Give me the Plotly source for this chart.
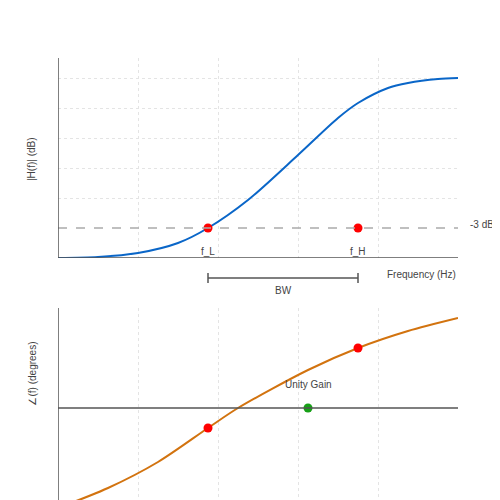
import plotly.graph_objects as go

mag_x = [0, 40, 80, 120, 150, 190, 240, 280, 300, 330, 350, 380, 400]
mag_y = [0, 1, 5, 15, 30, 58, 103, 140, 155, 170, 175, 179, 180]
ph_x = [0, 50, 100, 150, 180, 250, 300, 350, 400]
ph_y = [0, 20, 46, 80, 100, 138, 160, 177, 190]
cut_x = [150, 300]
cut_mag = [30, 30]
ph_pts_x = [150, 300]
ph_pts_y = [80, 160]
ug_x = [250]
ug_y = [100]

fig = go.Figure()
fig.add_trace(go.Scatter(x=mag_x, y=mag_y, mode="lines", line=dict(color="#0a66c8", width=2, shape="spline", smoothing=0.8), xaxis="x", yaxis="y"))
fig.add_trace(go.Scatter(x=cut_x, y=cut_mag, mode="markers", marker=dict(color="red", size=9), xaxis="x", yaxis="y"))
fig.add_trace(go.Scatter(x=ph_x, y=ph_y, mode="lines", line=dict(color="#d2730f", width=2, shape="spline", smoothing=0.8), xaxis="x2", yaxis="y2", cliponaxis=False))
fig.add_trace(go.Scatter(x=ph_pts_x, y=ph_pts_y, mode="markers", marker=dict(color="red", size=9), xaxis="x2", yaxis="y2"))
fig.add_trace(go.Scatter(x=ug_x, y=ug_y, mode="markers", marker=dict(color="#16a016", size=9), xaxis="x2", yaxis="y2"))

ax = dict(showticklabels=False, ticks="", zeroline=False, range=[0, 400], showline=False,
          gridcolor="#e4e4e4", griddash="dot", tickvals=[80, 160, 240, 320])
fig.update_layout(
    width=500, height=500, margin=dict(l=50, r=50, t=0, b=0, autoexpand=False), showlegend=False,
    plot_bgcolor="white", paper_bgcolor="white",
    xaxis=dict(ax, domain=[0, 1], anchor="y"),
    yaxis=dict(ax, domain=[0.5, 0.9], range=[0, 200], tickvals=[60, 90, 120, 150, 180], anchor="x"),
    xaxis2=dict(ax, domain=[0, 1], anchor="y2"),
    yaxis2=dict(ax, domain=[0, 0.4], range=[0, 200], tickvals=[], anchor="x2"),
)
shapes = [
    dict(type="line", xref="x", yref="y", x0=0, x1=400, y0=30, y1=30, line=dict(color="#aaaaaa", width=1.5, dash="dash")),
    dict(type="line", xref="x", yref="y", x0=0, x1=0, y0=0, y1=200, line=dict(color="#555", width=1.5)),
    dict(type="line", xref="x", yref="y", x0=0, x1=400, y0=0, y1=0, line=dict(color="#555", width=1.5)),
    dict(type="line", xref="x2", yref="y2", x0=0, x1=0, y0=0, y1=200, line=dict(color="#555", width=1.5)),
    dict(type="line", xref="x2", yref="y2", x0=0, x1=400, y0=100, y1=100, line=dict(color="#555", width=1.5)),
    dict(type="line", xref="x", yref="paper", x0=150, x1=300, y0=0.46, y1=0.46, line=dict(color="#555", width=1.5)),
    dict(type="line", xref="x", yref="paper", x0=150, x1=150, y0=0.45, y1=0.47, line=dict(color="#555", width=1.5)),
    dict(type="line", xref="x", yref="paper", x0=300, x1=300, y0=0.45, y1=0.47, line=dict(color="#555", width=1.5)),
]
fig.update_layout(shapes=shapes)
f = dict(family="Liberation Sans, Arial", size=10, color="#444")
def ann(text, x, y, xref="x", yref="y", **kw):
    return dict(text=text, x=x, y=y, xref=xref, yref=yref, showarrow=False, font=f, **kw)
fig.update_layout(annotations=[
    ann("f_L", 150, 7),
    ann("f_H", 300, 7),
    ann("-3 dB", 1.025, 30, xref="paper", xanchor="left", yshift=4),
    ann("Frequency (Hz)", 1.0, 0.468, xref="paper", yref="paper", xanchor="right"),
    ann("BW", 225, 0.436, yref="paper"),
    ann("Unity Gain", 250, 124, xref="x2", yref="y2"),
    dict(text="|H(f)| (dB)", x=-0.085, y=0.745, xref="paper", yref="paper", showarrow=False, font=f, textangle=-90),
    dict(text="∠(f) (degrees)", x=-0.085, y=0.2, xref="paper", yref="paper", showarrow=False, font=f, textangle=-90),
])
fig.write_html("out.html")
